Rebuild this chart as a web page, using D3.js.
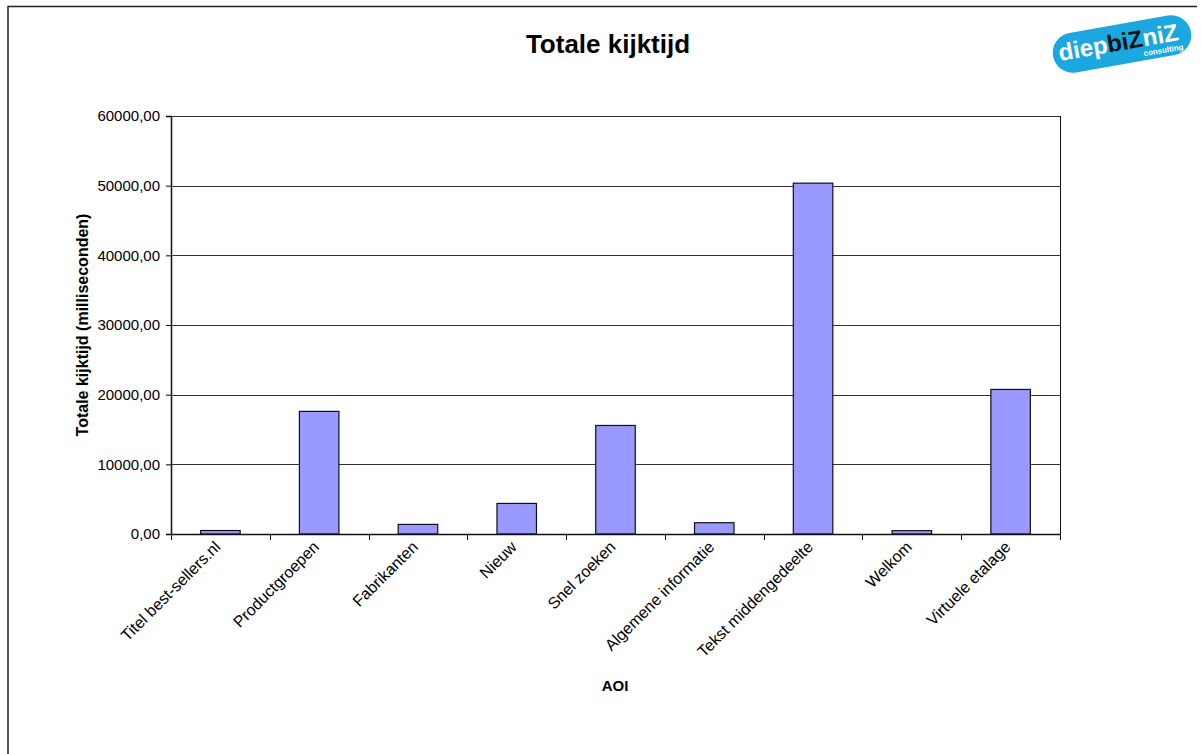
<!DOCTYPE html>
<html>
<head>
<meta charset="utf-8">
<script src="https://cdn.jsdelivr.net/npm/d3@7"></script>
<style>
  body { margin: 0; background: #fff; }
  text { font-family: "Liberation Sans", Arial, sans-serif; }
</style>
</head>
<body>
<svg id="chart" width="1201" height="754"></svg>
<script>
// AOI categories and total viewing time (ms)
var categories = ["Titel best-sellers.nl", "Productgroepen", "Fabrikanten", "Nieuw",
  "Snel zoeken", "Algemene informatie", "Tekst middengedeelte", "Welkom", "Virtuele etalage"];
var values = [500, 17600, 1380, 4390, 15580, 1620, 50360, 480, 20750];
var yTicks = [0, 10000, 20000, 30000, 40000, 50000, 60000];

var svg = d3.select("#chart");
var margin = {left: 171, top: 116, right: 141, bottom: 220};
var width = 1201 - margin.left - margin.right;
var height = 754 - margin.top - margin.bottom;

// outer frame (left + top only visible)
svg.append("path")
  .attr("d", "M8,754V6.5H1197")
  .attr("fill", "none")
  .attr("stroke", "#222")
  .attr("stroke-width", 1.5);

svg.append("text")
  .attr("x", 608).attr("y", 53)
  .attr("text-anchor", "middle")
  .attr("font-size", 26).attr("font-weight", "bold")
  .text("Totale kijktijd");

// logo
var logo = svg.append("g").attr("transform", "translate(1122,44) rotate(-10)");
logo.append("rect")
  .attr("x", -70).attr("y", -20).attr("width", 140).attr("height", 40)
  .attr("rx", 20).attr("fill", "#1ba8e0");
logo.append("text")
  .attr("x", -64).attr("y", 6)
  .attr("font-size", 24).attr("font-weight", "bold").attr("fill", "#fff")
  .text("diep")
  .append("tspan").attr("fill", "#111").text("biZ")
  .append("tspan").attr("fill", "#fff").text("niZ");
logo.append("text")
  .attr("x", 60).attr("y", 16).attr("text-anchor", "end")
  .attr("font-size", 8).attr("font-weight", "bold").attr("fill", "#fff")
  .text("consulting");

var g = svg.append("g").attr("transform", "translate(" + margin.left + "," + margin.top + ")");

var x = d3.scaleBand().domain(categories).range([0, width]).paddingInner(0.6).paddingOuter(0.3);
var y = d3.scaleLinear().domain([0, 60000]).range([height, 0]);

// gridlines
g.selectAll("line.grid").data(yTicks.slice(1))
  .enter().append("line")
  .attr("class", "grid")
  .attr("x1", 0).attr("x2", width)
  .attr("y1", function(d) { return Math.round(y(d)) + 0.5; })
  .attr("y2", function(d) { return Math.round(y(d)) + 0.5; })
  .attr("stroke", "#333").attr("stroke-width", 1);

// plot area right border
g.append("line")
  .attr("x1", width + 0.5).attr("x2", width + 0.5)
  .attr("y1", 0).attr("y2", height)
  .attr("stroke", "#111");

// bars
g.selectAll("rect.bar").data(values)
  .enter().append("rect")
  .attr("class", "bar")
  .attr("x", function(d, i) { return x(categories[i]); })
  .attr("width", x.bandwidth())
  .attr("y", function(d) { return y(d); })
  .attr("height", function(d) { return height - y(d); })
  .attr("fill", "#9999ff")
  .attr("stroke", "#111").attr("stroke-width", 1.2);

// y axis
var fmt = function(d) { return d3.format(".2f")(d).replace(".", ","); };
var yAxis = g.append("g")
  .call(d3.axisLeft(y).tickValues(yTicks).tickFormat(fmt).tickSize(5).tickPadding(6));
yAxis.select(".domain").attr("stroke", "#111").attr("stroke-width", 1.5);
yAxis.selectAll("text").attr("font-size", 15).attr("fill", "#000")
  .attr("font-family", "Liberation Sans, Arial, sans-serif");

// x axis with ticks at category boundaries
var xAxis = g.append("g").attr("transform", "translate(0," + height + ")");
xAxis.append("line")
  .attr("x1", 0).attr("x2", width).attr("y1", 0.5).attr("y2", 0.5)
  .attr("stroke", "#111").attr("stroke-width", 1.5);
var bounds = d3.range(categories.length + 1);
xAxis.selectAll("line.tick").data(bounds)
  .enter().append("line")
  .attr("x1", function(d) { return Math.round(d * width / categories.length) + 0.5; })
  .attr("x2", function(d) { return Math.round(d * width / categories.length) + 0.5; })
  .attr("y1", 0).attr("y2", 6)
  .attr("stroke", "#111");

xAxis.selectAll("text.cat").data(categories)
  .enter().append("text")
  .attr("class", "cat")
  .attr("text-anchor", "end")
  .attr("font-size", 16)
  .attr("transform", function(d) {
    var cx = x(d) + x.bandwidth() / 2;
    return "translate(" + (cx + 1) + ",14) rotate(-45)";
  })
  .text(function(d) { return d; });

// axis titles
svg.append("text")
  .attr("x", 615).attr("y", 691)
  .attr("text-anchor", "middle")
  .attr("font-size", 15).attr("font-weight", "bold")
  .text("AOI");

svg.append("text")
  .attr("transform", "translate(88," + (margin.top + height / 2) + ") rotate(-90)")
  .attr("text-anchor", "middle")
  .attr("font-size", 16).attr("font-weight", "bold")
  .text("Totale kijktijd (milliseconden)");
</script>
</body>
</html>
